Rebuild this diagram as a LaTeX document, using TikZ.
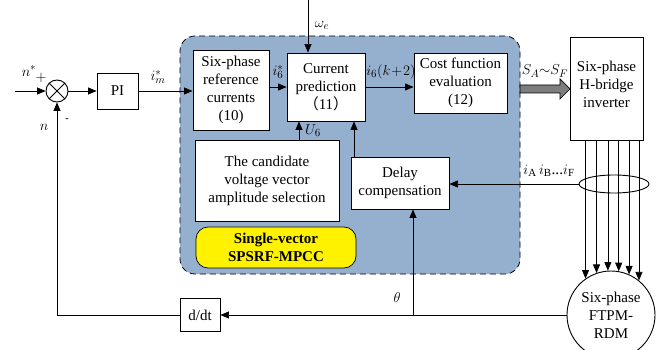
\documentclass[tikz,border=0pt]{standalone}
\usepackage{fontspec}
\setmainfont{Liberation Serif}
\newfontfamily\cjk{Noto Sans CJK SC}
\usetikzlibrary{arrows.meta,shapes.geometric}

\definecolor{ctrlblue}{RGB}{149,175,207}
\definecolor{arrowgray}{RGB}{125,125,125}

\tikzset{
  blk/.style={draw, fill=white, line width=0.9pt, align=center, inner sep=1pt,
    font=\fontsize{15}{18}\selectfont},
  sig/.style={-{Triangle[length=8.5pt,width=7pt]}, line width=0.7pt},
  lbl/.style={inner sep=0pt, font=\fontsize{15.5}{17}\selectfont},
}

\begin{document}
\begin{tikzpicture}[x=1pt,y=-1pt]
\useasboundingbox (0,0) rectangle (662,350);
%\draw[style=help lines,step=10] (0,0) grid (662,350);

% controller area
\node[draw, fill=ctrlblue, rounded corners=15, dash pattern=on 6pt off 4pt, line width=0.8pt,
  minimum width=340, minimum height=238] (ctrl) at (350,155) {};

% blocks
\node[draw, circle, line width=0.9pt, minimum size=22, inner sep=0pt] (sum) at (57,91) {};
\draw[line width=0.9pt] (sum.45)--(sum.225) (sum.135)--(sum.315);
\node[blk, minimum width=41, minimum height=36] (pi) at (117.5,91) {PI};
\node[blk, minimum width=76, minimum height=80] (ref) at (231,90) {Six-phase\\reference\\currents\\(10)};
\node[blk, minimum width=78, minimum height=68] (pred) at (326,87) {Current\\prediction\\{\cjk （}11{\cjk ）}};
\node[blk, minimum width=93, minimum height=60] (cost) at (460.5,83) {Cost function\\evaluation\\(12)};
\node[blk, minimum width=144, minimum height=81] (cand) at (267,180.5) {The candidate\\voltage vector\\amplitude selection};
\node[blk, minimum width=98, minimum height=52] (delay) at (400,183) {Delay\\compensation};
\node[blk, fill=yellow, rounded corners=12, minimum width=160, minimum height=41, line width=0.7pt,
  font=\fontsize{15}{18}\selectfont\bfseries] (mpcc) at (276,247.5) {Single-vector\\SPSRF-MPCC};
\node[blk, minimum width=73, minimum height=103, text depth=9pt] (inv) at (606.5,88.5) {Six-phase\\H-bridge\\inverter};
\node[blk, circle, minimum size=88] (motor) at (611,315) {Six-phase\\FTPM-\\RDM};
\node[blk, minimum width=40, minimum height=33] (ddt) at (200,315) {d/dt};

% speed loop
\coordinate (nin) at (15,91);
\draw[sig] (nin) -- (sum.west);
\draw[sig] (sum.east) -- (pi.west);
\draw[sig] (pi.east) -- (ref.west |- pi);
\node[lbl] at (29,71) {$n^{*}$};
\node[lbl] at (41,78) {$+$};
\node[lbl] at (44,127) {$n$};
\node[lbl, font=\bfseries] at (67,120) {-};
\node[lbl] at (158,77) {$i_m^{*}$};

% prediction path
\coordinate (wtop) at (308,0);
\draw[sig] (wtop) -- (wtop |- pred.north);
\node[lbl] at (322,25) {$\omega_e$};
\draw[sig] (ref.east |- pred.west) -- (pred.west);
\node[lbl] at (278,72) {$i_6^{*}$};
\draw[sig] (pred.east) -- (pred.east -| cost.west);
\node[lbl] at (391,72) {$i_6(k\!+\!2)$};
\draw[sig] ([xshift=-27pt]pred.south |- cand.north) -- ([xshift=-27pt]pred.south);
\node[lbl] at (313,131) {$U_6$};
\draw[sig] ([xshift=28pt]pred.south |- delay.north) -- ([xshift=28pt]pred.south);

% switching signals (fat arrow)
\coordinate (sw) at (520,89);
\draw[fill=arrowgray, line width=0.7pt] (sw) ++(0,-4) -- ++(40,0) -- ++(0,-6) -- ++(10,10)
  -- ++(-10,10) -- ++(0,-6) -- ++(-40,0) -- cycle;
\node[lbl] at (545,71) {$S_A{\sim}S_F$};

% phase currents
\foreach \a in {125,109,94,80,66,51}
  \draw[sig] (motor.\a |- inv.south) -- (motor.\a);
\node[draw, ellipse, line width=0.9pt, minimum width=70, minimum height=18, inner sep=0pt] (ell) at (614,184) {};
\draw[sig] (ell.west) -- (ell.west -| delay.east);
\node[lbl] at (549,171) {$i_{\mathrm{A}}\,i_{\mathrm{B}}$...$i_{\mathrm{F}}$};

% position feedback
\coordinate (th) at (413,315);
\draw[line width=0.7pt] (motor.west) -- (th);
\draw[sig] (th) -- (th |- delay.south);
\node[lbl] at (397,297) {$\theta$};
\draw[sig] (th) -- (ddt.east);
\draw[sig] (ddt.west) -| (sum.south);

\end{tikzpicture}
\end{document}
